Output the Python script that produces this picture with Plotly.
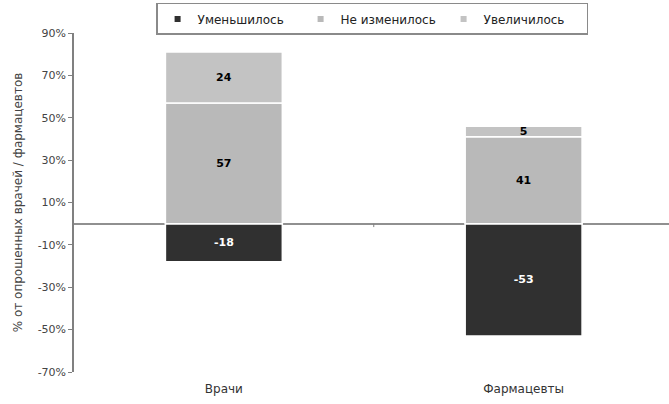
import plotly.graph_objects as go

categories = ["Врачи", "Фармацевты"]
decreased = [-18, -53]
unchanged = [57, 41]
increased = [24, 5]
series_names = ["Уменьшилось", "Не изменилось", "Увеличилось"]
tick_vals = [-70, -50, -30, -10, 10, 30, 50, 70, 90]
tick_text = ["-70%", "-50%", "-30%", "-10%", "10%", "30%", "50%", "70%", "90%"]

colors = ["#303030", "#b9b9b9", "#c3c3c3"]
text_colors = ["white", "black", "black"]
FONT = "DejaVu Sans"

fig = go.Figure()
for name, vals, col, tc in zip(series_names, [decreased, unchanged, increased], colors, text_colors):
    fig.add_trace(go.Bar(
        x=categories, y=vals, name=name, marker=dict(color=col, line=dict(color="white", width=1.5)),
        width=0.39, text=[str(v) for v in vals], textposition="inside", insidetextanchor="middle",
        textangle=0, constraintext="none",
        textfont=dict(family=FONT, size=11, color=tc, weight="bold"),
        showlegend=False, hoverinfo="skip",
    ))
    # legend proxy with small square marker
    fig.add_trace(go.Scatter(
        x=[None], y=[None], mode="markers", name=name,
        marker=dict(symbol="square", size=6, color=col), showlegend=True,
    ))

# category separator tick on the zero line
fig.add_shape(type="line", xref="x", yref="y", x0=0.5, x1=0.5, y0=0, y1=-1.6,
              line=dict(color="#808080", width=1))

fig.update_layout(
    width=669, height=404,
    margin=dict(l=74, r=0, t=33, b=32, autoexpand=False),
    barmode="relative",
    plot_bgcolor="white", paper_bgcolor="white",
    font=dict(family=FONT, size=12, color="#333333"),
    legend=dict(orientation="h", x=0.501, xanchor="center", y=1.0885, yanchor="top",
                bordercolor="#8a8a8a", borderwidth=1.5, font=dict(size=12, color="#222222"),
                entrywidth=98, entrywidthmode="pixels", itemwidth=30,
                tracegroupgap=0),
    xaxis=dict(range=[-0.5, 1.485], showline=False, showgrid=False, ticks="",
               tickfont=dict(size=12, color="#333333"), ticklabelstandoff=8),
    yaxis=dict(range=[-70, 90], tickvals=tick_vals, ticktext=tick_text, showgrid=False,
               showline=True, linecolor="#808080", linewidth=1.5, ticks="outside",
               ticklen=4, tickcolor="#808080", tickwidth=1,
               zeroline=True, zerolinecolor="#909090", zerolinewidth=1.5,
               title=dict(text="% от опрошенных врачей / фармацевтов", font=dict(size=12, color="#444444"), standoff=12),
               tickfont=dict(size=11, color="#444444")),
)

fig.write_html("out.html", config={"displayModeBar": False},
               post_script="document.body.style.margin='0';")
